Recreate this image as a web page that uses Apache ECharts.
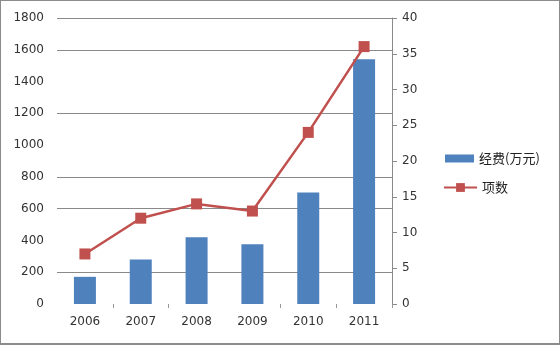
<!DOCTYPE html>
<html>
<head>
<meta charset="utf-8">
<script src="https://cdn.jsdelivr.net/npm/echarts@6/dist/echarts.min.js"></script>
<style>
  html, body { margin: 0; padding: 0; background: #fff; }
  #chart { width: 560px; height: 345px; box-sizing: border-box; border: 1px solid #8c8c8c; border-bottom-width: 2px; }
</style>
</head>
<body>
<div id="chart"></div>
<script>
// Yearly funding (10k yuan) and number of projects
const years = ['2006', '2007', '2008', '2009', '2010', '2011'];
const funding = [171, 280, 420, 376, 702, 1541];
const projects = [7, 12, 14, 13, 24, 36];

const fundingName = '经费(万元)';
const projectsName = '项数';

const axisFont = { fontFamily: 'DejaVu Sans', fontSize: 12, color: '#333' };
const gridGray = '#8a8a8a';
const none = 'rgba(0,0,0,0)';
const plain = (v) => String(v);

const chart = echarts.init(document.getElementById('chart'), null, { renderer: 'canvas' });
chart.setOption({
  animation: false,
  backgroundColor: '#fff',
  grid: { left: 56, right: 167, top: 17, bottom: 39, containLabel: false },
  legend: [
    {
      data: [{ name: fundingName, icon: 'rect' }],
      left: 439, top: 146,
      itemWidth: 29, itemHeight: 8,
      textStyle: { fontFamily: 'Noto Sans CJK SC', fontSize: 13, color: '#222' },
      selectedMode: false
    },
    {
      data: [projectsName],
      left: 437, top: 175,
      itemWidth: 33, itemHeight: 11,
      textStyle: { fontFamily: 'Noto Sans CJK SC', fontSize: 13, color: '#222' },
      selectedMode: false
    }
  ],
  xAxis: {
    type: 'category',
    data: years,
    boundaryGap: true,
    axisLine: { show: false },
    axisTick: {
      show: true, length: 4, lineStyle: { color: '#999' },
      interval: (i) => i === 1 || i === 2 || i === 4 || i === 5
    },
    axisLabel: Object.assign({ margin: 12, interval: 0 }, axisFont)
  },
  yAxis: [
    {
      type: 'value', min: 0, max: 1800, interval: 200,
      axisLine: { show: false },
      axisTick: { show: false },
      axisLabel: Object.assign({ margin: 13, formatter: plain }, axisFont),
      splitLine: {
        show: true,
        lineStyle: {
          width: 1,
          color: [none, gridGray, none, gridGray, gridGray,
                  none, gridGray, none, gridGray, gridGray]
        }
      }
    },
    {
      type: 'value', min: 0, max: 40, interval: 5, position: 'right',
      axisLine: { show: true, lineStyle: { color: gridGray, width: 1 } },
      axisTick: { show: true, inside: false, length: 5, lineStyle: { color: gridGray } },
      axisLabel: Object.assign({ margin: 10, formatter: plain }, axisFont),
      splitLine: { show: false }
    }
  ],
  series: [
    {
      name: fundingName,
      type: 'bar',
      yAxisIndex: 0,
      data: funding,
      barWidth: 22,
      itemStyle: { color: '#4f81bd' }
    },
    {
      name: projectsName,
      type: 'line',
      yAxisIndex: 1,
      data: projects,
      symbol: 'rect',
      symbolSize: 11,
      lineStyle: { color: '#c0504d', width: 2.5 },
      itemStyle: { color: '#c0504d' }
    }
  ]
});
</script>
</body>
</html>
